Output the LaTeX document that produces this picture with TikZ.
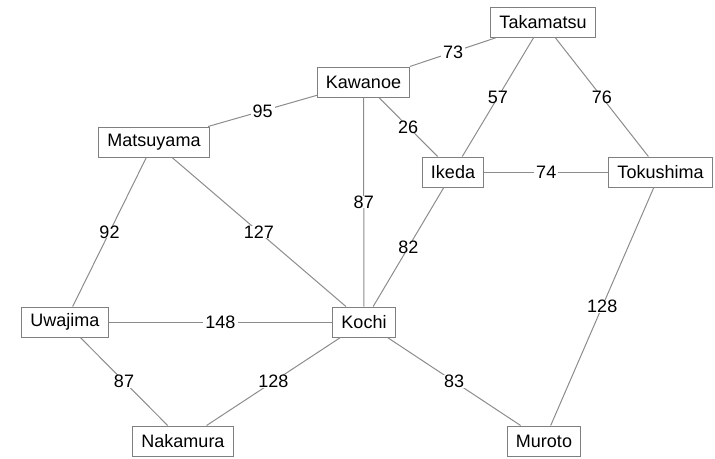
\documentclass[tikz,border=0pt]{standalone}
\usepackage{fontspec}
\setmainfont{Liberation Sans}
\begin{document}
\begin{tikzpicture}[x=1pt,y=-1pt,
  city/.style={draw=boxgray, line width=1pt, fill=white, inner xsep=8.5pt, inner ysep=0pt,
    minimum height=30pt, font=\fontsize{18}{20}\selectfont, text=black},
  road/.style={draw=linegray, line width=1pt},
  dist/.style={fill=white, inner xsep=2pt, inner ysep=0pt, font=\fontsize{18}{20}\selectfont, text=black}]
\definecolor{boxgray}{HTML}{808080}
\definecolor{linegray}{HTML}{8C8C8C}
\useasboundingbox (0,0) rectangle (715,458);
\node[city] (tak) at (543,22) {Takamatsu};
\node[city] (kaw) at (363.5,82) {Kawanoe};
\node[city] (mat) at (154,142) {Matsuyama};
\node[city] (ike) at (453,172) {Ikeda};
\node[city] (tok) at (660.5,172) {Tokushima};
\node[city] (uwa) at (65,322) {Uwajima};
\node[city] (koc) at (364,322) {Kochi};
\node[city] (nak) at (183,441) {Nakamura};
\node[city] (mur) at (544,441) {Muroto};
\draw[road] (kaw) -- node[dist] {73} (tak);
\draw[road] (tak) -- node[dist] {57} (ike);
\draw[road] (tak) -- node[dist] {76} (tok);
\draw[road] (mat) -- node[dist] {95} (kaw);
\draw[road] (kaw) -- node[dist] {26} (ike);
\draw[road] (ike) -- node[dist] {74} (tok);
\draw[road] (mat) -- node[dist] {92} (uwa);
\draw[road] (mat) -- node[dist] {127} (koc);
\draw[road] (kaw) -- node[dist] {87} (koc);
\draw[road] (ike) -- node[dist] {82} (koc);
\draw[road] (tok) -- node[dist] {128} (mur);
\draw[road] (uwa) -- node[dist] {148} (koc);
\draw[road] (uwa) -- node[dist] {87} (nak);
\draw[road] (koc) -- node[dist] {128} (nak);
\draw[road] (koc) -- node[dist] {83} (mur);
\end{tikzpicture}
\end{document}
